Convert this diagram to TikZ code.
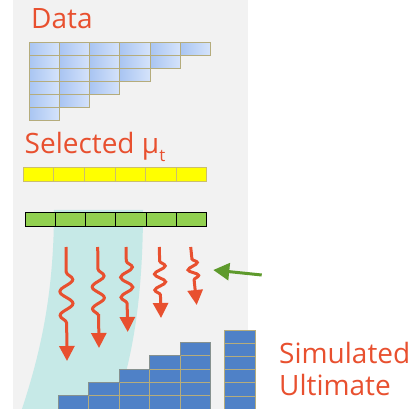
\documentclass[tikz,border=0pt]{standalone}
\usepackage{fontspec}
\setmainfont{Open Sans}
\usetikzlibrary{arrows.meta,decorations.pathmorphing}
\definecolor{panelgray}{HTML}{F2F2F2}
\definecolor{txtred}{HTML}{E8502F}
\definecolor{wavered}{HTML}{E8502F}
\definecolor{bandteal}{HTML}{C6E9E7}
\definecolor{cellA}{HTML}{A9C5F2}
\definecolor{cellB}{HTML}{D5E3FB}
\definecolor{khaki}{HTML}{B5AC7C}
\definecolor{barline}{HTML}{CBBE6E}
\definecolor{muyellow}{HTML}{FFFF00}
\definecolor{mugreen}{HTML}{92D050}
\definecolor{blockblue}{HTML}{4F81C7}
\definecolor{stairgray}{HTML}{86918F}
\definecolor{pointgreen}{HTML}{5E9A2C}
\begin{document}
\begin{tikzpicture}[x=1pt,y=-1pt,
  heading/.style={font=\fontsize{28}{32}\selectfont, text=txtred, inner sep=0pt, anchor=base west},
  datacell/.style={left color=cellA, right color=cellB, draw=khaki, line width=0.9pt},
  yellowcell/.style={fill=muyellow, draw=barline, line width=0.9pt},
  greencell/.style={fill=mugreen, draw=black, line width=1pt},
  block/.style={fill=blockblue, draw=khaki, line width=0.9pt},
  wave/.style={draw=wavered, line width=3pt, decorate, -{Triangle[width=15pt,length=15pt]}},
]
\useasboundingbox (0,0) rectangle (418,409);
% panel
\fill[panelgray] (13,0) rectangle (248,409);

% flow band under the simulation arrows
\fill[bandteal] (54,210) -- (143,210)
  .. controls (143,300) and (132,360) .. (115,409)
  -- (22,409)
  .. controls (38,360) and (54,300) .. (54,210) -- cycle;

% titles
\node[heading] (data) at (31,28.3) {Data};
\node[heading] (sel) at (24.5,154) {Selected μ\raisebox{-8pt}{\fontsize{17}{17}\selectfont t}};
\node[heading] (simA) at (279,363) {Simulated};
\node[heading] (simB) at (279,395) {Ultimate};

% data triangle
\foreach \r in {0,...,5}{
  \pgfmathtruncatemacro\lastc{5-\r}
  \foreach \c in {0,...,\lastc}{
    \path[datacell] ({29.3+30.2*\c},{42.3+13.05*\r}) rectangle ++(30.2,13.05);
  }
}

% selected factors
\foreach \c in {0,...,5}
  \path[yellowcell] ({23.3+30.57*\c},167.3) rectangle ++(30.57,14.4);
\foreach \c in {0,...,5}
  \path[greencell] ({25+30.28*\c},212.7) rectangle ++(30.28,14);

% simulated triangle
\foreach \c in {0,...,4}{
  \foreach \r in {0,...,\c}{
    \path[block] ({58.3+30.5*\c},{409-13.3*(\r+1)}) rectangle ++(30.5,13.3);
  }
}
\draw[stairgray, line width=1.2pt] (58.3,409) -- (58.3,395.7) -- (88.8,395.7) -- (88.8,382.4)
  -- (119.3,382.4) -- (119.3,369.1) -- (149.8,369.1) -- (149.8,355.8) -- (180.3,355.8)
  -- (180.3,342.5) -- (210.8,342.5) -- (210.8,409);
% ultimate column
\foreach \r in {0,...,5}
  \path[block] (224.3,{330.7+13.05*\r}) rectangle ++(30.7,13.05);

% simulation arrows
\coordinate (w1s) at (66,247);   \coordinate (w1e) at (67,361);
\coordinate (w2s) at (97.7,247); \coordinate (w2e) at (99,348);
\coordinate (w3s) at (126,247);  \coordinate (w3e) at (127.7,332);
\coordinate (w4s) at (159.3,247);\coordinate (w4e) at (161,318);
\coordinate (w5s) at (190.7,247);\coordinate (w5e) at (196.7,305);
\draw[wave, decoration={snake, pre length=25pt, post length=28pt, segment length=24pt, amplitude=6.5pt}] (w1s) -- (w1e);
\draw[wave, decoration={snake, pre length=22pt, post length=25pt, segment length=22pt, amplitude=6pt}] (w2s) -- (w2e);
\draw[wave, decoration={snake, pre length=14pt, post length=24pt, segment length=20pt, amplitude=6pt}] (w3s) -- (w3e);
\draw[wave, decoration={snake, pre length=14pt, post length=22pt, segment length=16pt, amplitude=5.5pt}] (w4s) -- (w4e);
\draw[wave, decoration={snake, pre length=12pt, post length=19pt, segment length=13pt, amplitude=5pt}] (w5s) -- (w5e);

% pointer
\coordinate (ptail) at (261.7,275);
\coordinate (phead) at (213.3,270);
\draw[pointgreen, line width=3pt, -{Triangle[width=17pt,length=16pt]}] (ptail) -- (phead);
\end{tikzpicture}
\end{document}
